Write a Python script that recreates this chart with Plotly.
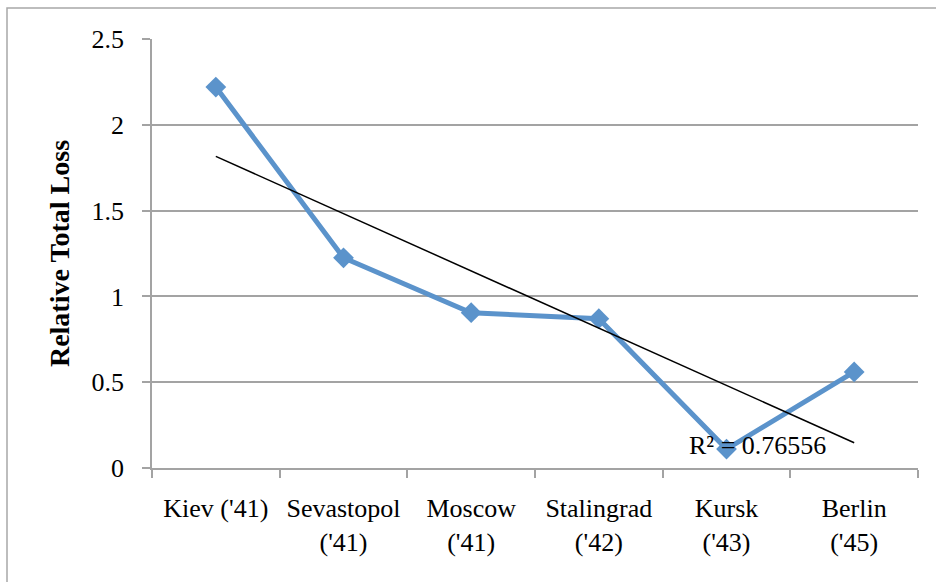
import numpy as np
import plotly.graph_objects as go

categories = ["Kiev ('41)", "Sevastopol<br>('41)", "Moscow<br>('41)",
              "Stalingrad<br>('42)", "Kursk<br>('43)", "Berlin<br>('45)"]
loss = [2.22, 1.225, 0.905, 0.87, 0.11, 0.56]
y_ticks = [0, 0.5, 1, 1.5, 2, 2.5]
y_tick_labels = ["0", "0.5", "1", "1.5", "2", "2.5"]
r2_text = "R² = 0.76556"

FONT = "Liberation Serif"
GRID = "#A3A3A3"
BLUE = "#5B93CB"
FS = 26

idx = np.arange(len(categories))
slope, intercept = np.polyfit(idx, loss, 1)
trend = slope * idx + intercept

fig = go.Figure()
fig.add_trace(go.Scatter(
    x=categories, y=loss, mode="lines+markers",
    line=dict(color=BLUE, width=5),
    marker=dict(symbol="diamond", size=16, color=BLUE),
    showlegend=False, hoverinfo="skip"))
fig.add_trace(go.Scatter(
    x=[categories[0], categories[-1]], y=[trend[0], trend[-1]], mode="lines",
    line=dict(color="black", width=1.5),
    showlegend=False, hoverinfo="skip"))

fig.add_annotation(x=4.24, y=0.13, xref="x", yref="y", text=r2_text,
                   showarrow=False, font=dict(family=FONT, size=FS, color="black"))

W, H = 936, 582
L, R, T, B = 152, 18, 39, 114
pw, ph = W - L - R, H - T - B
fig.add_shape(type="rect", xref="paper", yref="paper",
              x0=(7 - L) / pw, x1=(W + 5 - L) / pw,
              y0=(H - B - (H + 5)) / ph, y1=(H - B - 8) / ph,
              line=dict(color="#A8A8A8", width=1.5), layer="below")

fig.update_layout(
    width=W, height=H,
    margin=dict(l=L, r=R, t=T, b=B),
    paper_bgcolor="white", plot_bgcolor="white",
    font=dict(family=FONT, size=FS, color="black"),
    xaxis=dict(type="category", range=[-0.5, 5.5], tickson="boundaries",
               showline=True, linecolor=GRID, linewidth=1.5,
               ticks="outside", ticklen=8, tickcolor=GRID, tickwidth=1.5,
               showgrid=False, zeroline=False,
               tickfont=dict(family=FONT, size=FS), ticklabelstandoff=16),
    yaxis=dict(range=[0, 2.5], tickvals=y_ticks, ticktext=y_tick_labels,
               showline=True, linecolor=GRID, linewidth=1.5,
               ticks="outside", ticklen=8, tickcolor=GRID, tickwidth=1.5,
               showgrid=True, gridcolor=GRID, gridwidth=1.5, zeroline=False,
               tickfont=dict(family=FONT, size=FS), ticklabelstandoff=13,
               title=dict(text="<b>Relative Total Loss</b>", standoff=14,
                          font=dict(family=FONT, size=28))),
)

fig.write_html("out.html", config={"displayModeBar": False},
               post_script="document.body.style.margin='0';")
